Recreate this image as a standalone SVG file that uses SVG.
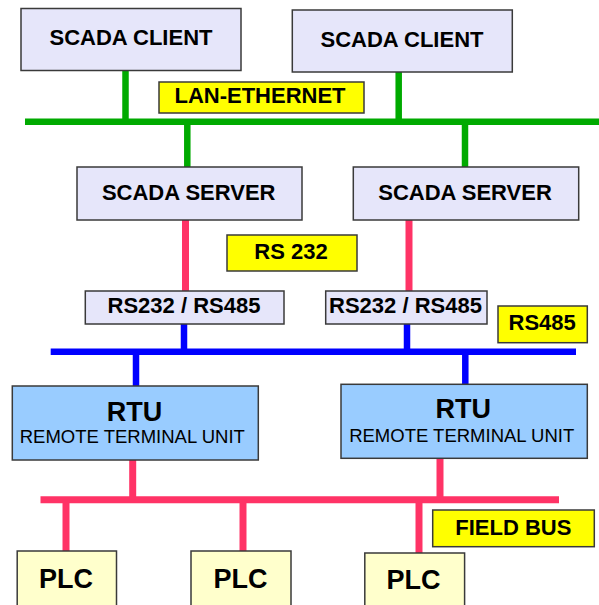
<svg xmlns="http://www.w3.org/2000/svg" width="599" height="605" viewBox="0 0 599 605">
<style>
.box{fill:#E6E6FA;stroke:#3a3a3a;stroke-width:1.5}
.lab{fill:#FFFF00;stroke:#3a3a3a;stroke-width:1.5}
.rtu{fill:#99CCFF;stroke:#3a3a3a;stroke-width:1.5}
.plc{fill:#FFFFCC;stroke:#3a3a3a;stroke-width:1.5}
.t{font-family:"Liberation Sans",Arial,sans-serif;font-weight:bold;font-size:22px;fill:#000;text-anchor:middle}
.big{font-size:27px}
.sub{font-weight:normal;font-size:18.5px}
.g{stroke:#00AA00;stroke-width:6.5;fill:none}
.p{stroke:#FF3366;stroke-width:7;fill:none}
.b{stroke:#0000FF;stroke-width:6.5;fill:none}
</style>
<g id="connectors">
<line class="g" x1="25" y1="121.7" x2="599" y2="121.7"/>
<line class="g" x1="125.5" y1="70" x2="125.5" y2="121.7"/>
<line class="g" x1="398.7" y1="71.7" x2="398.7" y2="121.7"/>
<line class="g" x1="187.3" y1="121.7" x2="187.3" y2="167"/>
<line class="g" x1="465" y1="121.7" x2="465" y2="167"/>
<line class="p" x1="185.5" y1="220" x2="185.5" y2="291"/>
<line class="p" x1="409" y1="220" x2="409" y2="291"/>
<line class="b" x1="50.7" y1="351.7" x2="576" y2="351.7"/>
<line class="b" x1="184" y1="324" x2="184" y2="351.7"/>
<line class="b" x1="407" y1="324" x2="407" y2="351.7"/>
<line class="b" x1="136" y1="351.7" x2="136" y2="386"/>
<line class="b" x1="465.3" y1="351.7" x2="465.3" y2="384"/>
<line class="p" x1="40.5" y1="499.7" x2="559" y2="499.7"/>
<line class="p" x1="132.7" y1="460" x2="132.7" y2="499.7"/>
<line class="p" x1="440" y1="458" x2="440" y2="499.7"/>
<line class="p" x1="66" y1="499.7" x2="66" y2="551"/>
<line class="p" x1="243" y1="499.7" x2="243" y2="551"/>
<line class="p" x1="419" y1="499.7" x2="419" y2="553"/>
</g>
<g id="client1"><rect class="box" x="21" y="8.5" width="220" height="62"/><text class="t" x="131" y="45">SCADA CLIENT</text></g>
<g id="client2"><rect class="box" x="292.3" y="10" width="220" height="62"/><text class="t" x="402" y="46.7">SCADA CLIENT</text></g>
<g id="lan"><rect class="lab" x="159" y="82" width="205" height="31"/><text class="t" x="260" y="102.7">LAN-ETHERNET</text></g>
<g id="server1"><rect class="box" x="77" y="167" width="225" height="53"/><text class="t" x="188.7" y="200">SCADA SERVER</text></g>
<g id="server2"><rect class="box" x="353.3" y="167" width="225.4" height="53"/><text class="t" x="465" y="200">SCADA SERVER</text></g>
<g id="rs232"><rect class="lab" x="227" y="235" width="130" height="36"/><text class="t" x="291" y="259.3">RS 232</text></g>
<g id="conv1"><rect class="box" x="85.3" y="291" width="198.7" height="33"/><text class="t" x="184" y="313.3">RS232 / RS485</text></g>
<g id="conv2"><rect class="box" x="325.7" y="291" width="161.3" height="33"/><text class="t" x="405.5" y="313.3">RS232 / RS485</text></g>
<g id="rs485"><rect class="lab" x="498" y="306" width="89.3" height="36.7"/><text class="t" x="542.2" y="330">RS485</text></g>
<g id="rtu1"><rect class="rtu" x="12.3" y="386" width="246" height="74"/><text class="t big" x="134.5" y="420.7">RTU</text><text class="t sub" x="132.3" y="443.3">REMOTE TERMINAL UNIT</text></g>
<g id="rtu2"><rect class="rtu" x="341" y="384.3" width="246.3" height="74"/><text class="t big" x="463.3" y="418.3">RTU</text><text class="t sub" x="461.7" y="441.7">REMOTE TERMINAL UNIT</text></g>
<g id="fieldbus"><rect class="lab" x="432.7" y="510" width="161.6" height="36.7"/><text class="t" x="513.3" y="535">FIELD BUS</text></g>
<g id="plc1"><rect class="plc" x="17.2" y="551" width="99.3" height="60"/><text class="t big" x="66" y="587.7">PLC</text></g>
<g id="plc2"><rect class="plc" x="191" y="551" width="100" height="60"/><text class="t big" x="240.6" y="587.7">PLC</text></g>
<g id="plc3"><rect class="plc" x="364.8" y="553" width="99.8" height="60"/><text class="t big" x="413.5" y="589.3">PLC</text></g>
</svg>
